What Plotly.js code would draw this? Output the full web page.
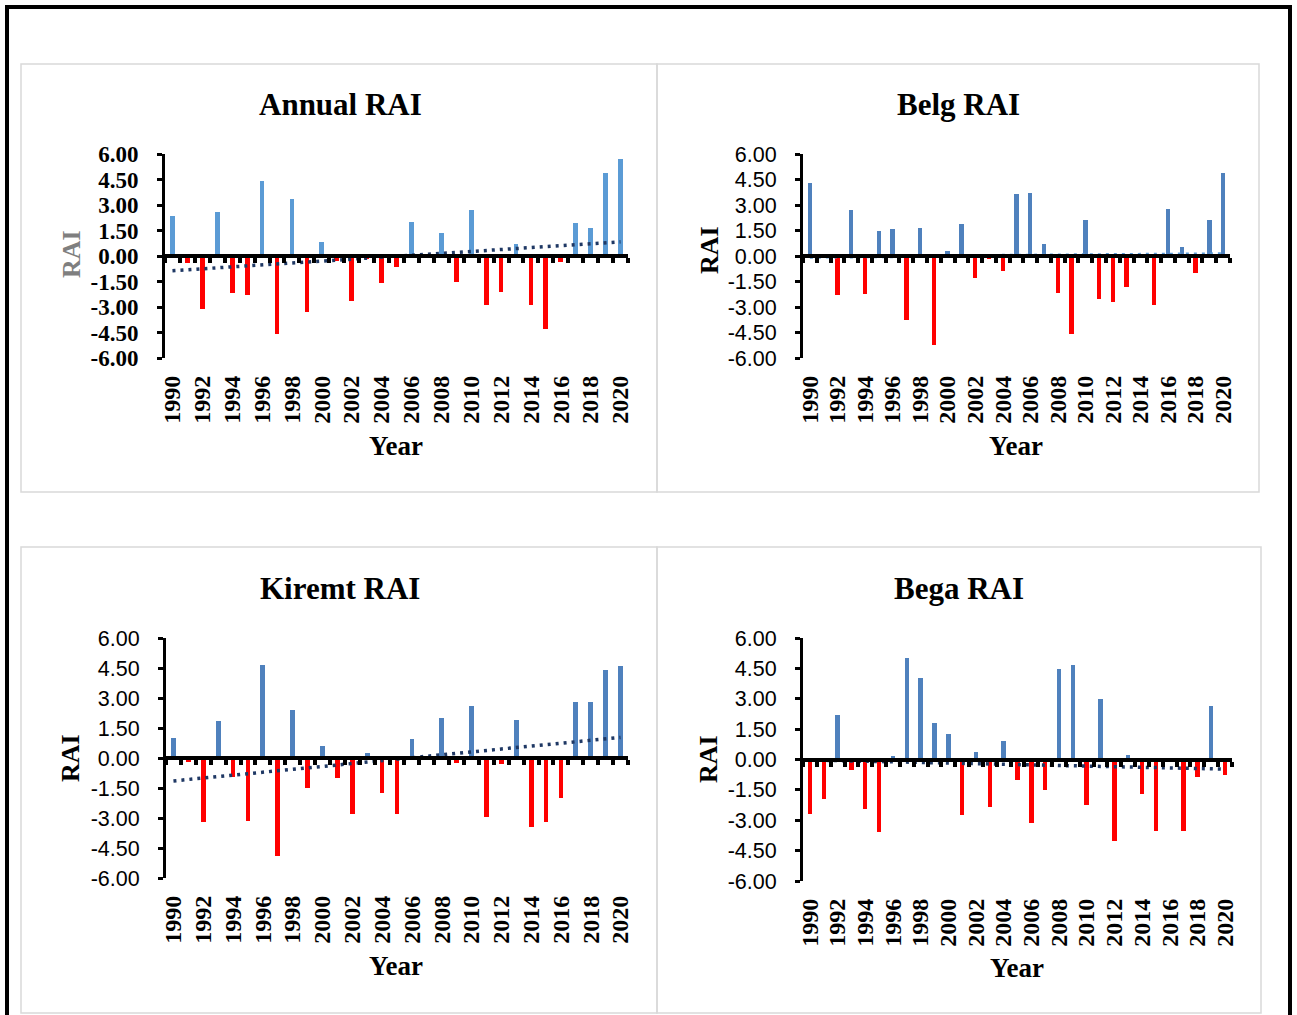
<!DOCTYPE html>
<html><head><meta charset="utf-8">
<script src="https://cdn.plot.ly/plotly-3.0.1.min.js"></script>
<style>html,body{margin:0;padding:0;background:#fff}#chart{width:1297px;height:1015px}</style>
</head><body><div id="chart"></div><script>
// ---- data ----
const years = [1990,1991,1992,1993,1994,1995,1996,1997,1998,1999,2000,2001,2002,2003,2004,2005,2006,2007,2008,2009,2010,2011,2012,2013,2014,2015,2016,2017,2018,2019,2020];
const tickYears = [1990,1992,1994,1996,1998,2000,2002,2004,2006,2008,2010,2012,2014,2016,2018,2020];
const yTickVals = [-6,-4.5,-3,-1.5,0,1.5,3,4.5,6];
const yTickText = ['-6.00','-4.50','-3.00','-1.50','0.00','1.50','3.00','4.50','6.00'];
const panelTitles = ['Annual RAI','Belg RAI','Kiremt RAI','Bega RAI'];
const annualRAI = [2.35,-0.40,-3.10,2.61,-2.16,-2.27,4.39,-4.57,3.35,-3.27,0.82,-0.27,-2.63,-0.20,-1.57,-0.63,1.98,0.03,1.35,-1.51,2.71,-2.86,-2.10,0.71,-2.86,-4.27,-0.33,1.96,1.65,4.88,5.73];
const belgRAI = [4.31,0.05,-2.28,2.68,-2.22,1.46,1.56,-3.76,1.67,-5.24,0.30,1.87,-1.28,-0.20,-0.87,3.66,3.72,0.69,-2.17,-4.59,2.13,-2.52,-2.70,-1.81,0.05,-2.87,2.74,0.53,-0.98,2.09,4.88];
const kiremtRAI = [1.02,-0.22,-3.22,1.87,-0.97,-3.17,4.63,-4.92,2.40,-1.52,0.62,-1.02,-2.82,0.23,-1.77,-2.82,0.97,0.02,2.00,-0.27,2.62,-2.97,-0.32,1.92,-3.47,-3.22,-2.02,2.78,2.82,4.40,4.62];
const begaRAI = [-2.68,-1.97,2.19,-0.51,-2.43,-3.57,0.15,5.03,4.01,1.78,1.28,-2.73,0.38,-2.34,0.89,-1.00,-3.12,-1.50,4.47,4.69,-2.24,2.98,-4.01,0.21,-1.69,-3.52,-0.02,-3.52,-0.86,2.66,-0.76];

// ---- layout helpers ----
const W = 1297, H = 1015;
const px = x => x / W, py = y => 1 - y / H;
const SERIF = 'Liberation Serif, Times New Roman, serif';
const SANS = 'Liberation Sans, Arial, sans-serif';

const panels = [
  {values: annualRAI, pos: '#5B9BD5', trend: '#1F3864', tickFam: SERIF, tickSize: 23, tickWeight: 'bold', raiColor: '#7F7F7F',
   box: [165, 628, 154, 358], frame: [21, 64, 657, 492], title: [340, 104], year: [396, 446], rai: [72, 254]},
  {values: belgRAI, pos: '#4F81BD', trend: '#5B9BD5', tickFam: SANS, tickSize: 21.5, tickWeight: 'normal', raiColor: '#000000',
   box: [803, 1230, 154, 358], frame: [657, 64, 1259, 492], title: [958, 104], year: [1016, 446], rai: [709, 250]},
  {values: kiremtRAI, pos: '#4F81BD', trend: '#1F3864', tickFam: SANS, tickSize: 21.5, tickWeight: 'normal', raiColor: '#000000',
   box: [166, 628, 638, 878], frame: [21, 547, 657, 1013], title: [340, 588], year: [396, 966], rai: [70, 758]},
  {values: begaRAI, pos: '#4F81BD', trend: '#1F3864', tickFam: SANS, tickSize: 21.5, tickWeight: 'normal', raiColor: '#000000',
   box: [803, 1232, 638, 881], frame: [657, 547, 1261, 1013], title: [959, 588], year: [1017, 968], rai: [708, 759]}
];

function trendOf(xs, ys) {
  const n = xs.length;
  const mx = xs.reduce((a, b) => a + b, 0) / n, my = ys.reduce((a, b) => a + b, 0) / n;
  let sxy = 0, sxx = 0;
  for (let i = 0; i < n; i++) { sxy += (xs[i] - mx) * (ys[i] - my); sxx += (xs[i] - mx) ** 2; }
  const b = sxy / sxx, a = my - b * mx;
  return xs.map(x => a + b * x);
}

const data = [];
const layout = {
  width: W, height: H, margin: {l: 0, r: 0, t: 0, b: 0},
  paper_bgcolor: '#ffffff', plot_bgcolor: 'rgba(0,0,0,0)',
  showlegend: false, bargap: 0, shapes: [], annotations: []
};

layout.shapes.push({type: 'rect', xref: 'paper', yref: 'paper', x0: px(7), x1: px(1290), y0: py(1030), y1: py(7),
  line: {color: '#000000', width: 4}, layer: 'below'});

panels.forEach((p, i) => {
  const k = i + 1, ko = i + 5;
  const xs = k === 1 ? '' : String(k);
  const xId = 'x' + xs, yId = 'y' + xs, xoId = 'x' + ko;
  const xd = [px(p.box[0]), px(p.box[1])];
  const yd = [py(p.box[3]), py(p.box[2])];

  layout['xaxis' + xs] = {
    domain: xd, anchor: yId, range: [1989.5, 2020.5], tickvals: tickYears, ticktext: tickYears.map(String),
    tickangle: -90, ticks: '', ticklabelstandoff: 12, showline: false, showgrid: false, zeroline: false,
    tickfont: {family: SERIF, size: 24, color: '#000000', weight: 'bold'}
  };
  layout['yaxis' + xs] = {
    domain: yd, anchor: xId, range: [-6, 6], tickvals: yTickVals, ticktext: yTickText,
    ticks: 'outside', ticklen: 5, tickwidth: 3, tickcolor: '#000000', showline: true, linewidth: 3, linecolor: '#000000',
    showgrid: false, zeroline: false, ticklabelstandoff: 14,
    tickfont: {family: p.tickFam, size: p.tickSize, color: '#000000', weight: p.tickWeight}
  };
  layout['xaxis' + ko] = {
    overlaying: xId, anchor: 'free', position: (yd[0] + yd[1]) / 2, domain: xd, range: [1989.5, 2020.5],
    tick0: 1989.5, dtick: 1, ticks: 'outside', ticklen: 5, tickwidth: 4, tickcolor: '#000000',
    showline: true, linewidth: 4, linecolor: '#000000', showticklabels: false, showgrid: false, zeroline: false
  };

  data.push({
    type: 'bar', x: years, y: p.values, xaxis: xId, yaxis: yId, width: 0.32,
    marker: {color: p.values.map(v => v >= 0 ? p.pos : '#FF0000'), line: {width: 0}}, hoverinfo: 'x+y'
  });
  data.push({
    type: 'scatter', mode: 'lines', x: years, y: trendOf(years, p.values), xaxis: xoId, yaxis: yId,
    line: {color: p.trend, width: 3.5, dash: '3px,5px'}, hoverinfo: 'skip'
  });

  layout.shapes.push({type: 'rect', xref: 'paper', yref: 'paper', x0: px(p.frame[0]), x1: px(p.frame[2]),
    y0: py(p.frame[3]), y1: py(p.frame[1]), line: {color: '#D9D9D9', width: 1.5}, layer: 'below'});

  layout.annotations.push({text: panelTitles[i], xref: 'paper', yref: 'paper', x: px(p.title[0]), y: py(p.title[1]),
    xanchor: 'center', yanchor: 'middle', showarrow: false,
    font: {family: SERIF, size: 31, color: '#000000', weight: 'bold'}});
  layout.annotations.push({text: 'Year', xref: 'paper', yref: 'paper', x: px(p.year[0]), y: py(p.year[1]),
    xanchor: 'center', yanchor: 'middle', showarrow: false,
    font: {family: SERIF, size: 27, color: '#000000', weight: 'bold'}});
  layout.annotations.push({text: 'RAI', xref: 'paper', yref: 'paper', x: px(p.rai[0]), y: py(p.rai[1]),
    xanchor: 'center', yanchor: 'middle', showarrow: false, textangle: -90,
    font: {family: SERIF, size: 26, color: p.raiColor, weight: 'bold'}});
});

Plotly.newPlot('chart', data, layout, {displayModeBar: false, staticPlot: true});
</script></body></html>
